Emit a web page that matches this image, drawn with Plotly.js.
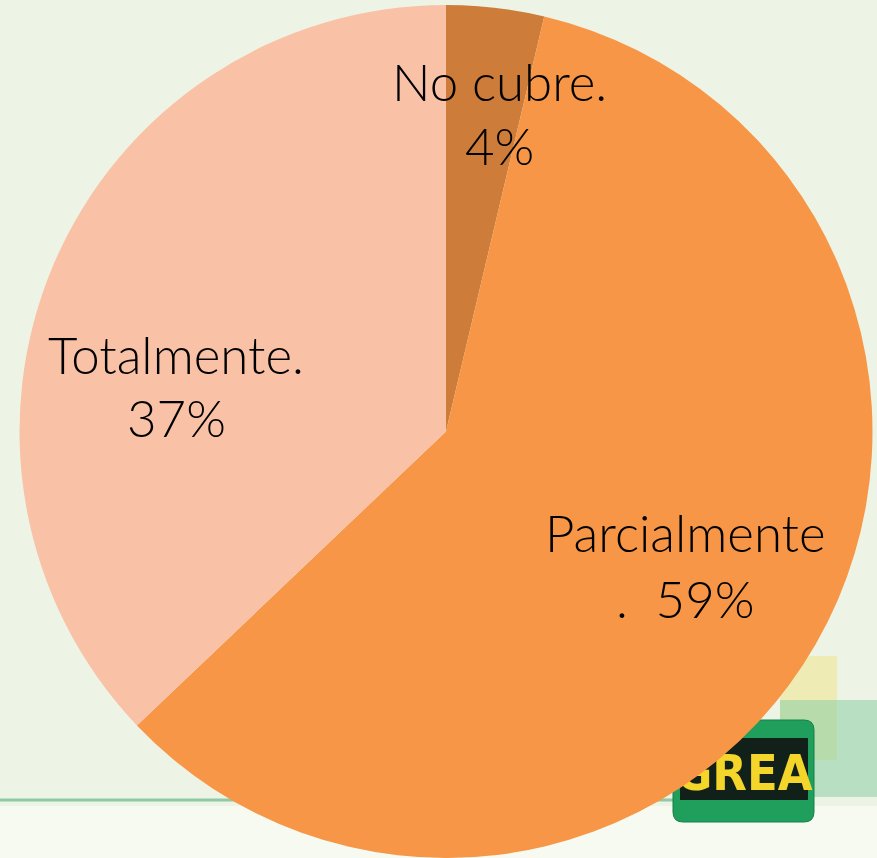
<!DOCTYPE html>
<html>
<head>
<meta charset="utf-8">
<script src="https://cdn.plot.ly/plotly-3.0.1.min.js"></script>
<style>html,body{margin:0;padding:0;background:#eef4e5;}#chart{width:877px;height:858px;}</style>
</head>
<body>
<div id="chart"></div>
<script>
// ---- data ----
const categories = ["No cubre.", "Parcialmente.", "Totalmente."];
const values = [3.7, 59.2, 37.1];
const labelLine1 = ["No cubre.", "Parcialmente", "Totalmente."];
const labelLine2Prefix = ["", ".  ", ""];
const colors = ["#CE7C3A", "#F79646", "#F9C2A7"];

// ---- layout helpers (pixels -> paper) ----
const W = 877, H = 858;
const px = x => x / W;
const py = y => 1 - y / H;

// label positions (pixels): [x, yLine1, yLine2]
const labelPos = [[499, 82, 145], [685, 532, 598], [176, 355, 417]];

const total = values.reduce((a, b) => a + b, 0);
const labelFont = {family: 'Lato, sans-serif', size: 51, color: '#000', weight: 300};
const annotations = [];
categories.forEach((c, i) => {
  const pct = Math.round(values[i] / total * 100);
  annotations.push({x: px(labelPos[i][0]), y: py(labelPos[i][1]), xref: 'paper', yref: 'paper',
    text: labelLine1[i], showarrow: false, xanchor: 'center', yanchor: 'middle', font: labelFont});
  annotations.push({x: px(labelPos[i][0]), y: py(labelPos[i][2]), xref: 'paper', yref: 'paper',
    text: labelLine2Prefix[i] + pct + '%', showarrow: false, xanchor: 'center', yanchor: 'middle', font: labelFont});
});

function roundRect(x0, y0, x1, y1, r) {
  const X = v => px(v), Y = v => py(v);
  return `M${X(x0 + r)},${Y(y0)} L${X(x1 - r)},${Y(y0)} Q${X(x1)},${Y(y0)} ${X(x1)},${Y(y0 + r)} ` +
    `L${X(x1)},${Y(y1 - r)} Q${X(x1)},${Y(y1)} ${X(x1 - r)},${Y(y1)} L${X(x0 + r)},${Y(y1)} ` +
    `Q${X(x0)},${Y(y1)} ${X(x0)},${Y(y1 - r)} L${X(x0)},${Y(y0 + r)} Q${X(x0)},${Y(y0)} ${X(x0 + r)},${Y(y0)} Z`;
}

const shapes = [
  {type: 'rect', xref: 'paper', yref: 'paper', layer: 'below', x0: px(0), x1: px(877), y0: py(858), y1: py(806),
    fillcolor: 'rgba(248,251,243,0.8)', line: {width: 0}},
  {type: 'line', xref: 'paper', yref: 'paper', layer: 'below', x0: px(0), x1: px(700), y0: py(800), y1: py(800),
    line: {color: '#8fc9a6', width: 3}},
  {type: 'rect', xref: 'paper', yref: 'paper', layer: 'below', x0: px(780), x1: px(837), y0: py(760), y1: py(656),
    fillcolor: 'rgba(238,232,160,0.7)', line: {width: 0}},
  {type: 'rect', xref: 'paper', yref: 'paper', layer: 'below', x0: px(780), x1: px(877), y0: py(797), y1: py(700),
    fillcolor: 'rgba(140,205,165,0.55)', line: {width: 0}},
  {type: 'path', xref: 'paper', yref: 'paper', layer: 'below',
    path: roundRect(673, 720, 814, 822, 10), fillcolor: '#1f9e5c', line: {color: '#17804a', width: 1}},
  {type: 'rect', xref: 'paper', yref: 'paper', layer: 'below', x0: px(680), x1: px(808), y0: py(800), y1: py(738),
    fillcolor: '#12201a', line: {width: 0},
    label: {text: '<b>GREA</b>', font: {family: 'DejaVu Sans Condensed, sans-serif', size: 50, color: '#f4d52a'},
      textposition: 'middle center'}}
];

const trace = {
  type: 'pie',
  labels: categories,
  values: values,
  sort: false,
  direction: 'clockwise',
  rotation: 0,
  textinfo: 'none',
  hoverinfo: 'label+percent',
  marker: {colors: colors, line: {width: 0}},
  domain: {x: [px(18), px(874)], y: [0, py(5)]},
  showlegend: false
};

const layout = {
  width: W, height: H,
  margin: {l: 0, r: 0, t: 0, b: 0},
  paper_bgcolor: '#eef4e5',
  plot_bgcolor: '#eef4e5',
  showlegend: false,
  shapes: shapes,
  annotations: annotations
};

Plotly.newPlot('chart', [trace], layout, {displayModeBar: false, staticPlot: true});
</script>
</body>
</html>
